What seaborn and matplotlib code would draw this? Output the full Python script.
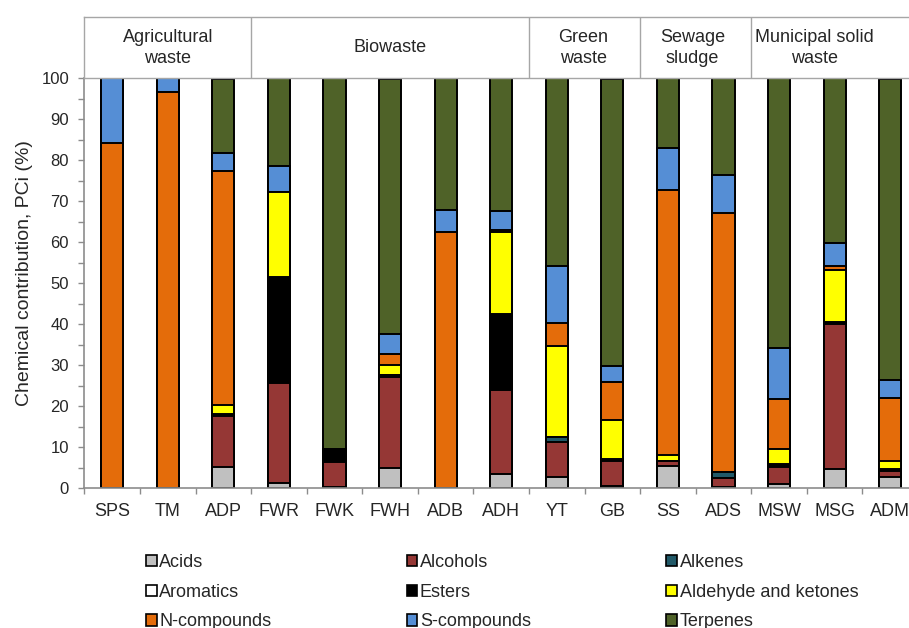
import numpy as np
import pandas as pd
import seaborn as sns
import matplotlib.pyplot as plt
from matplotlib.patches import Patch
from matplotlib.ticker import MultipleLocator, FixedLocator

sns.set_style("ticks")
plt.rcParams['font.family'] = ['Liberation Sans', 'DejaVu Sans']

cats = ["SPS", "TM", "ADP", "FWR", "FWK", "FWH", "ADB", "ADH",
        "YT", "GB", "SS", "ADS", "MSW", "MSG", "ADM"]

acids     = [0, 0, 5.3, 1.2, 0.3, 5.0, 0, 3.4, 2.7, 0.6, 5.4, 0.4, 1.1, 4.8, 2.7]
alcohols  = [0, 0, 12.3, 24.4, 6.2, 22.2, 0, 20.6, 8.7, 6.1, 1.3, 2.0, 4.0, 35.3, 1.4]
alkenes   = [0, 0, 0, 0, 0, 0.5, 0, 0, 1.2, 0, 0, 1.5, 0, 0, 0]
aromatics = [0, 0, 0, 0, 0, 0, 0, 0, 0, 0, 0, 0, 0, 0, 0]
esters    = [0, 0, 0.6, 25.9, 3.0, 0, 0, 18.4, 0, 0.5, 0, 0, 0.8, 0.4, 0.6]
aldehydes = [0, 0, 2.0, 20.7, 0, 2.3, 0, 20.0, 22.1, 9.4, 1.4, 0, 3.7, 12.8, 1.9]
n_comp    = [84.3, 96.7, 57.2, 0, 0, 2.7, 62.4, 0.6, 5.5, 9.3, 64.7, 63.3, 12.2, 0.8, 15.4]
s_comp    = [15.7, 3.3, 4.4, 6.4, 0, 5.0, 5.6, 4.7, 14.1, 3.9, 10.2, 9.2, 12.5, 5.8, 4.3]
terpenes  = [0, 0, 18.1, 21.4, 90.5, 62.2, 32.0, 32.3, 45.7, 70.1, 17.0, 23.6, 65.7, 40.1, 73.6]

groups = ["Agricultural\nwaste", "Biowaste", "Green\nwaste", "Sewage\nsludge", "Municipal solid\nwaste"]
group_sizes = [3, 5, 2, 2, 3]

layers = ["Acids", "Alcohols", "Alkenes", "Aromatics", "Esters",
          "Aldehyde and ketones", "N-compounds", "S-compounds", "Terpenes"]
colors = ["#C0C0C0", "#953735", "#215968", "#FFFFFF", "#000000",
          "#FFFF00", "#E46C0A", "#558ED5", "#4F6228"]

df = pd.DataFrame({"cat": cats, "Acids": acids, "Alcohols": alcohols, "Alkenes": alkenes,
                   "Aromatics": aromatics, "Esters": esters, "Aldehyde and ketones": aldehydes,
                   "N-compounds": n_comp, "S-compounds": s_comp, "Terpenes": terpenes})
cum = df[layers].cumsum(axis=1)
cum["cat"] = df["cat"]

W, H = 909, 628
fig = plt.figure(figsize=(9.09, 6.28), dpi=100)
left, right = 84.4, 918
ax = fig.add_axes([left / W, (H - 488.3) / H, (right - left) / W, 410 / H])

# overlay cumulative bars, top layer first
for layer, col in reversed(list(zip(layers, colors))):
    sns.barplot(data=cum, x="cat", y=layer, order=cats, color=col, saturation=1,
                width=0.4, edgecolor="black", linewidth=1.4, errorbar=None, ax=ax)

gray = "#8C8C8C"
ax.set_xlim(-0.5, len(cats) - 0.5)
ax.set_ylim(0, 100)
ax.yaxis.set_major_locator(MultipleLocator(10))
ax.yaxis.set_minor_locator(MultipleLocator(5))
ax.xaxis.set_minor_locator(FixedLocator(np.arange(-0.5, len(cats), 1)))
ax.tick_params(axis="y", which="both", length=4, color=gray, width=1, labelsize=12, pad=7)
ax.tick_params(axis="x", which="major", length=0, labelsize=13, pad=10.5)
ax.tick_params(axis="x", which="minor", length=4, color=gray, width=1)
for s in ["top", "right"]:
    ax.spines[s].set_visible(False)
for s in ["left", "bottom"]:
    ax.spines[s].set_color(gray)
    ax.spines[s].set_linewidth(1.2)
ax.set_xlabel("")
ax.set_ylabel("Chemical contribution, PCi (%)", fontsize=14)
ax.yaxis.set_label_coords(-0.062, 0.525)

# header row with the waste groups
hax = fig.add_axes([left / W, (H - 78.3) / H, (right - left) / W, 61 / H])
hax.set_xlim(-0.5, len(cats) - 0.5)
hax.set_ylim(0, 1)
hax.set_xticks([])
hax.set_yticks([])
for s in hax.spines.values():
    s.set_color("#A6A6A6")
    s.set_linewidth(1)
edges = np.cumsum(group_sizes) - 0.5
for e in edges[:-1]:
    hax.axvline(e, color="#A6A6A6", lw=1)
centers = [1, 5, 8.48, 10.44, 12.64]
for g, c in zip(groups, centers):
    hax.text(c, 0.5, g, ha="center", va="center", fontsize=13, linespacing=1.35)

# legend, row-wise order like the original
handles = [Patch(facecolor=c, edgecolor="black", lw=1.2, label=l) for l, c in zip(layers, colors)]
order = [0, 3, 6, 1, 4, 7, 2, 5, 8]
fig.legend([handles[i] for i in order], [layers[i] for i in order], ncol=3,
           loc="upper left", bbox_to_anchor=(146 / W, (H - 554) / H), frameon=False,
           fontsize=13, handlelength=0.59, handleheight=0.59, handletextpad=0.14,
           columnspacing=7.5, labelspacing=0.7, borderpad=0, borderaxespad=0)

fig.savefig("out.png", dpi=100)
